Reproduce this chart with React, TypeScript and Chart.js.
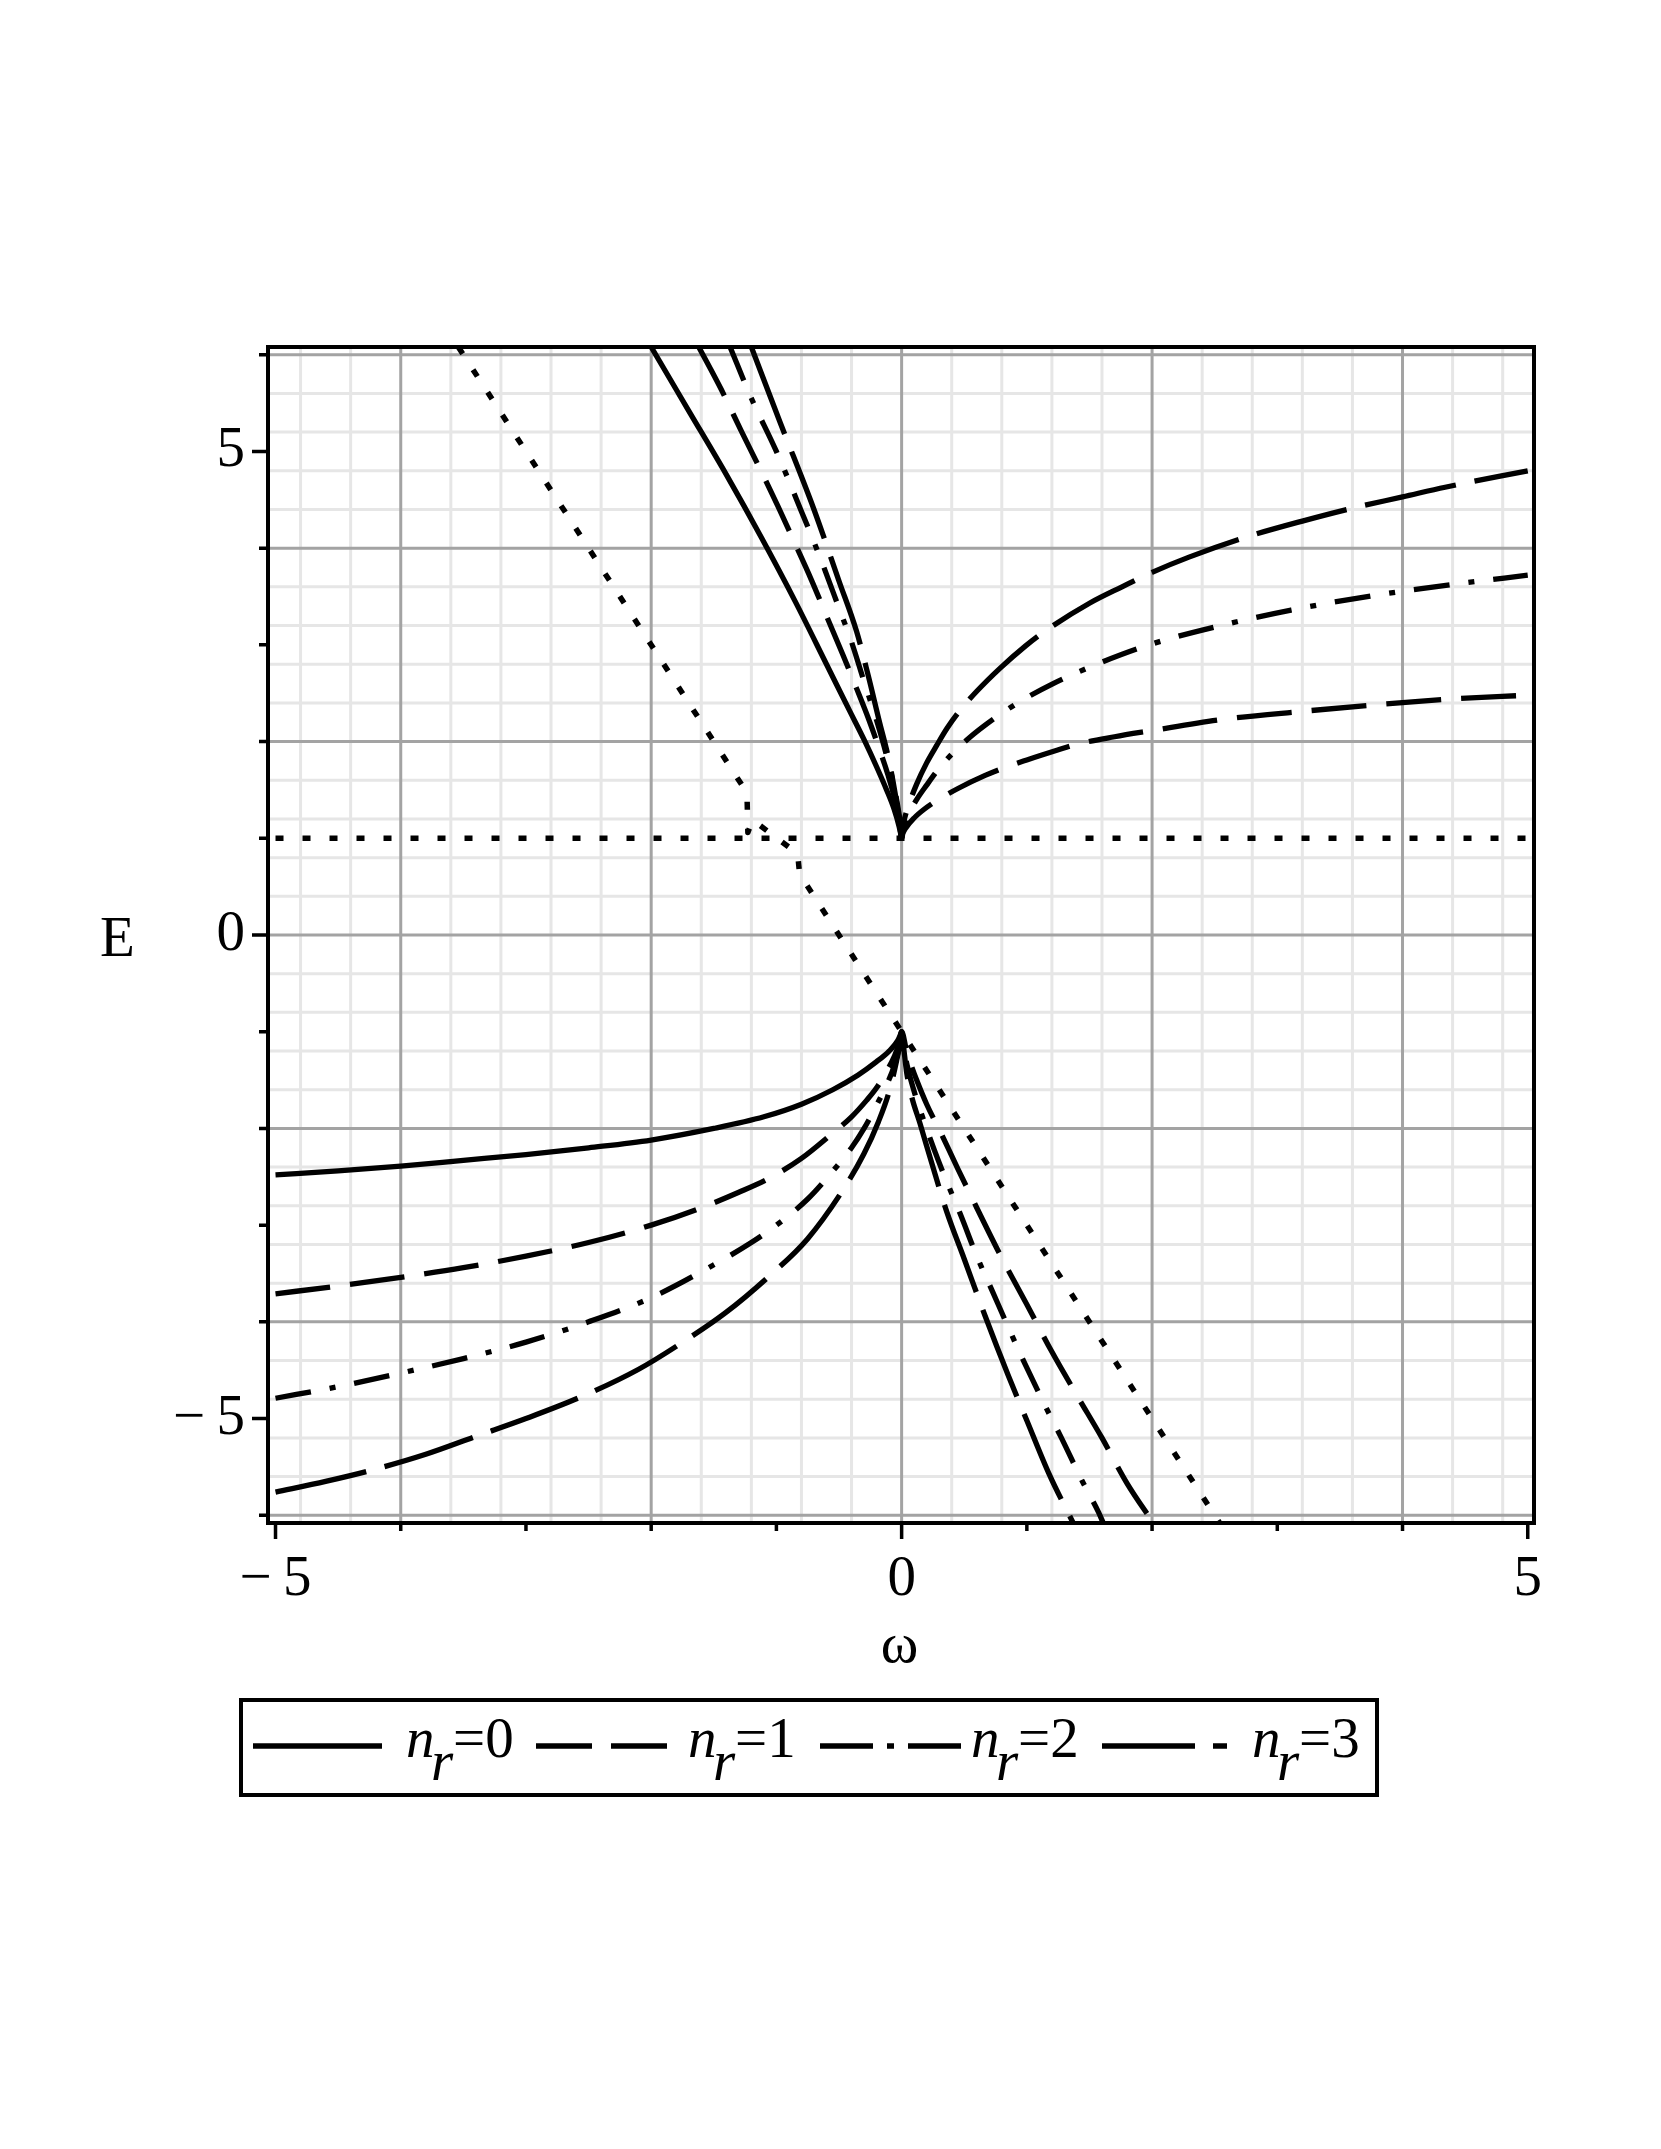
import React, { useEffect, useRef } from 'react';
import { Chart, registerables } from 'chart.js';

Chart.register(...registerables);

type Pt = [number, number];

// ---------- axis ranges & tick labels ----------
const X_MIN = -5.06;
const X_MAX = 5.05;
const Y_MIN = -6.08;
const Y_MAX = 6.08;
const xLabelValues = [-5, 0, 5];
const yLabelValues = [-5, 0, 5];
const xTitle = 'ω';
const yTitle = 'E';
const legendValues = ['0', '1', '2', '3'];

// ---------- series (ω, E) ----------
const n0Upper: Pt[] = [
  [-2.0, 6.08], [-1.7, 5.42], [-1.4, 4.76], [-1.12, 4.11], [-0.85, 3.45], [-0.6, 2.8],
  [-0.42, 2.33], [-0.3, 2.02], [-0.2, 1.74], [-0.12, 1.5], [-0.06, 1.3], [-0.02, 1.12], [0, 1],
];
const n0Lower: Pt[] = [
  [-5, -2.48], [-4.5, -2.44], [-4, -2.39], [-3.5, -2.33], [-3, -2.27], [-2.5, -2.2], [-2, -2.12],
  [-1.5, -2.0], [-1.1, -1.88], [-0.8, -1.75], [-0.55, -1.6], [-0.35, -1.45], [-0.2, -1.31],
  [-0.1, -1.2], [-0.03, -1.09], [0, -1],
];
const n1Upper: Pt[] = [
  [-1.62, 6.08], [-1.44, 5.64], [-1.28, 5.21], [-1.15, 4.87], [-0.99, 4.44], [-0.87, 4.1],
  [-0.72, 3.67], [-0.6, 3.3], [-0.47, 2.9], [-0.36, 2.55], [-0.26, 2.22], [-0.18, 1.93],
  [-0.11, 1.66], [-0.05, 1.38], [-0.015, 1.15], [0, 1], [0.01, 1.05], [0.03, 1.1], [0.1, 1.21],
  [0.18, 1.3], [0.28, 1.39], [0.45, 1.515], [0.667, 1.65], [0.82, 1.73], [1.0, 1.81], [1.24, 1.91],
  [1.39, 1.97], [1.7, 2.05], [1.98, 2.11], [2.57, 2.23], [3.18, 2.31], [3.785, 2.38], [4.39, 2.44],
  [5, 2.48],
];
const n1Lower: Pt[] = [
  [-5, -3.71], [-4.5, -3.63], [-4, -3.54], [-3.5, -3.44], [-3, -3.32], [-2.5, -3.18], [-2, -3.0],
  [-1.6, -2.82], [-1.3, -2.66], [-1.05, -2.51], [-0.8, -2.31], [-0.57, -2.07], [-0.4, -1.88],
  [-0.28, -1.71], [-0.2, -1.58], [-0.12, -1.41], [-0.06, -1.26], [-0.02, -1.12], [0, -1],
  [0.04, -1.2], [0.08, -1.36], [0.12, -1.5], [0.2, -1.75], [0.307, -2.03], [0.45, -2.42],
  [0.6, -2.82], [0.8, -3.34], [1.0, -3.82], [1.2, -4.31], [1.4, -4.76], [1.6, -5.2], [1.8, -5.67],
  [2.01, -6.08],
];
const n2Upper: Pt[] = [
  [-1.37, 6.08], [-1.2, 5.55], [-1.0, 5.0], [-0.8, 4.38], [-0.65, 3.9], [-0.5, 3.38], [-0.4, 3.03],
  [-0.3, 2.62], [-0.2, 2.22], [-0.14, 1.95], [-0.08, 1.65], [-0.04, 1.4], [-0.01, 1.15], [0, 1],
  [0.02, 1.12], [0.053, 1.24], [0.12, 1.4], [0.2, 1.55], [0.297, 1.72], [0.415, 1.89], [0.55, 2.05],
  [0.667, 2.17], [0.785, 2.28], [0.94, 2.41], [1.21, 2.6], [1.54, 2.79], [2.0, 3.01], [2.55, 3.2],
  [3.11, 3.36], [3.77, 3.51], [4.43, 3.63], [5, 3.72],
];
const n2Lower: Pt[] = [
  [-5, -4.79], [-4.5, -4.67], [-4, -4.53], [-3.5, -4.38], [-3, -4.21], [-2.5, -4.0], [-2, -3.75],
  [-1.5, -3.41], [-1.2, -3.18], [-1, -3.0], [-0.75, -2.73], [-0.555, -2.45], [-0.4, -2.2],
  [-0.3, -2.0], [-0.2, -1.76], [-0.12, -1.55], [-0.053, -1.33], [-0.015, -1.13], [0, -1],
  [0.015, -1.15], [0.05, -1.38], [0.11, -1.66], [0.18, -1.93], [0.26, -2.22], [0.36, -2.55],
  [0.467, -2.88], [0.6, -3.32], [0.72, -3.67], [0.867, -4.1], [0.987, -4.44], [1.147, -4.87],
  [1.28, -5.21], [1.44, -5.64], [1.573, -5.97], [1.61, -6.08],
];
const n3Upper: Pt[] = [
  [-1.2, 6.08], [-0.97, 5.3], [-0.7, 4.4], [-0.5, 3.66], [-0.36, 3.14], [-0.27, 2.7], [-0.18, 2.22],
  [-0.1, 1.8], [-0.05, 1.45], [-0.015, 1.15], [0, 1], [0.015, 1.15], [0.053, 1.33], [0.12, 1.56],
  [0.2, 1.78], [0.28, 1.96], [0.364, 2.14], [0.465, 2.32], [0.6, 2.52], [0.787, 2.76], [0.99, 2.99],
  [1.12, 3.12], [1.5, 3.43], [1.76, 3.6], [2.0, 3.75], [2.3, 3.91], [2.74, 4.11], [3.2, 4.28],
  [3.62, 4.42], [4.0, 4.53], [4.34, 4.63], [5, 4.8],
];
const n3Lower: Pt[] = [
  [-5, -5.76], [-4.6, -5.65], [-4.25, -5.54], [-3.8, -5.37], [-3.39, -5.18], [-3, -5.0],
  [-2.55, -4.77], [-2.1, -4.49], [-1.76, -4.22], [-1.4, -3.9], [-1.06, -3.53], [-0.75, -3.14],
  [-0.47, -2.64], [-0.3, -2.26], [-0.185, -1.93], [-0.1, -1.62], [-0.04, -1.3], [-0.01, -1.1],
  [0, -1], [0.015, -1.15], [0.04, -1.42], [0.08, -1.67], [0.147, -1.95], [0.25, -2.4],
  [0.36, -2.86], [0.5, -3.35], [0.667, -3.94], [0.85, -4.55], [1.0, -5.02], [1.18, -5.58],
  [1.37, -6.08],
];
const dottedLevel: Pt[] = [[-5, 1], [5, 1]];
const dottedDiagonal: Pt[] = [
  [-3.54, 6.08], [-1.235, 1.47], [-1.228, 1.06], [-1.19, 1.19], [-0.83, 0.84], [-0.815, 0.63],
  [2.54, -6.08],
];

// ---------- styles ----------
const W = 1661;
const H = 2149;
const FONT = "'Liberation Serif', serif";
const FONT_SIZE = 57;
const SOLID: number[] = [];
const DASHED = [55, 20];
const DASHDOT = [36, 19, 6, 19];
const LONGDASH = [93, 19];
const DOTTED = [8, 19];
const CURVE_W = 5.3;
const DOT_W = 5.5;

const AREA = { left: 268, top: 347, right: 1534, bottom: 1523 };
const Y_SCALE_W = 200;
const X_SCALE_H = 120;

const fmt = (v: number) => (v < 0 ? `\u2212\u2009${Math.abs(v)}` : `${v}`);

const seriesDefs: { data: Pt[]; dash: number[]; width: number; smooth: boolean }[] = [
  { data: n0Upper, dash: SOLID, width: CURVE_W, smooth: true },
  { data: n0Lower, dash: SOLID, width: CURVE_W, smooth: true },
  { data: n1Upper, dash: DASHED, width: CURVE_W, smooth: true },
  { data: n1Lower, dash: DASHED, width: CURVE_W, smooth: true },
  { data: n2Upper, dash: DASHDOT, width: CURVE_W, smooth: true },
  { data: n2Lower, dash: DASHDOT, width: CURVE_W, smooth: true },
  { data: n3Upper, dash: LONGDASH, width: CURVE_W, smooth: true },
  { data: n3Lower, dash: LONGDASH, width: CURVE_W, smooth: true },
  { data: dottedLevel, dash: DOTTED, width: DOT_W, smooth: false },
  { data: dottedDiagonal, dash: DOTTED, width: DOT_W, smooth: false },
];

const legendItems = [
  { sampleX: 253, len: 129, dash: SOLID, textX: 406 },
  { sampleX: 536, len: 131, dash: [56, 19], textX: 688 },
  { sampleX: 820, len: 141, dash: [53, 14, 7, 14], textX: 971 },
  { sampleX: 1102, len: 125, dash: [93, 18, 14, 100], textX: 1252 },
];
const LEGEND_BOX = { left: 241, top: 1700, right: 1377, bottom: 1795 };

const decor = {
  id: 'mapleDecor',
  beforeDraw(chart: any) {
    const { ctx } = chart;
    ctx.save();
    ctx.fillStyle = '#ffffff';
    ctx.fillRect(0, 0, chart.width, chart.height);
    ctx.restore();
  },
  beforeDatasetsDraw(chart: any) {
    const { ctx, chartArea: a } = chart;
    const xs = chart.scales.x;
    const ys = chart.scales.y;
    ctx.save();
    ctx.beginPath();
    ctx.rect(a.left, a.top, a.right - a.left, a.bottom - a.top);
    ctx.clip();
    const grid = (major: boolean) => {
      ctx.strokeStyle = major ? '#a3a3a3' : '#e6e6e6';
      ctx.lineWidth = 3;
      ctx.beginPath();
      for (let k = Math.ceil(X_MIN / 0.4); k * 0.4 <= X_MAX + 1e-9; k++) {
        if ((k % 5 === 0) !== major) continue;
        const px = xs.getPixelForValue(k * 0.4);
        ctx.moveTo(px, a.top);
        ctx.lineTo(px, a.bottom);
      }
      for (let k = Math.ceil(Y_MIN / 0.4); k * 0.4 <= Y_MAX + 1e-9; k++) {
        if ((k % 5 === 0) !== major) continue;
        const py = ys.getPixelForValue(k * 0.4);
        ctx.moveTo(a.left, py);
        ctx.lineTo(a.right, py);
      }
      ctx.stroke();
    };
    grid(false);
    grid(true);
    ctx.restore();
  },
  afterDatasetsDraw(chart: any) {
    const { ctx, chartArea: a } = chart;
    const xs = chart.scales.x;
    const ys = chart.scales.y;
    ctx.save();
    ctx.strokeStyle = '#000';
    ctx.fillStyle = '#000';
    // frame
    ctx.lineWidth = 4;
    ctx.setLineDash([]);
    ctx.strokeRect(a.left, a.top, a.right - a.left, a.bottom - a.top);
    // ticks
    ctx.lineWidth = 3.5;
    ctx.beginPath();
    for (let v = Math.ceil(X_MIN); v <= Math.floor(X_MAX); v++) {
      const px = xs.getPixelForValue(v);
      const len = xLabelValues.includes(v) ? 16 : 8;
      ctx.moveTo(px, a.bottom);
      ctx.lineTo(px, a.bottom + len);
    }
    for (let v = Math.ceil(Y_MIN); v <= Math.floor(Y_MAX); v++) {
      const py = ys.getPixelForValue(v);
      const len = yLabelValues.includes(v) ? 16 : 9;
      ctx.moveTo(a.left, py);
      ctx.lineTo(a.left - len, py);
    }
    ctx.stroke();
    // axis titles
    ctx.font = `${FONT_SIZE}px ${FONT}`;
    ctx.textBaseline = 'alphabetic';
    ctx.textAlign = 'left';
    ctx.fillText(yTitle, a.left - 168, ys.getPixelForValue(0) + 21);
    ctx.textAlign = 'center';
    ctx.fillText(xTitle, xs.getPixelForValue(0) - 2, a.bottom + 139);
    // legend box
    ctx.lineWidth = 4;
    ctx.strokeRect(LEGEND_BOX.left, LEGEND_BOX.top, LEGEND_BOX.right - LEGEND_BOX.left, LEGEND_BOX.bottom - LEGEND_BOX.top);
    const lineY = 1746;
    const baseY = 1757;
    legendItems.forEach((it, i) => {
      ctx.save();
      ctx.lineWidth = 5.5;
      ctx.lineCap = 'butt';
      ctx.setLineDash(it.dash);
      ctx.beginPath();
      ctx.moveTo(it.sampleX, lineY);
      ctx.lineTo(it.sampleX + it.len, lineY);
      ctx.stroke();
      ctx.restore();
      ctx.textAlign = 'left';
      ctx.font = `italic ${FONT_SIZE}px ${FONT}`;
      ctx.fillText('n', it.textX, baseY);
      ctx.fillText('r', it.textX + 25, baseY + 23);
      ctx.font = `${FONT_SIZE}px ${FONT}`;
      ctx.fillText('=' + legendValues[i], it.textX + 47, baseY);
    });
    ctx.restore();
  },
};

export default function App() {
  const ref = useRef<HTMLCanvasElement>(null);
  useEffect(() => {
    const canvas = ref.current;
    if (!canvas) return;
    const chart = new Chart(canvas, {
      type: 'line',
      data: {
        datasets: seriesDefs.map((s, i) => ({
          label: `s${i}`,
          data: s.data.map(([x, y]) => ({ x, y })),
          borderColor: '#000',
          borderWidth: s.width,
          borderDash: s.dash,
          borderCapStyle: 'butt',
          borderJoinStyle: 'round',
          pointRadius: 0,
          fill: false,
          cubicInterpolationMode: s.smooth ? 'monotone' : 'default',
          tension: 0,
          clip: 0,
        })) as any,
      },
      options: {
        responsive: false,
        animation: false,
        events: [],
        layout: {
          padding: {
            left: AREA.left - Y_SCALE_W,
            top: AREA.top,
            right: W - AREA.right,
            bottom: H - AREA.bottom - X_SCALE_H,
          },
        },
        plugins: { legend: { display: false }, tooltip: { enabled: false } },
        scales: {
          x: {
            type: 'linear',
            min: X_MIN,
            max: X_MAX,
            afterBuildTicks: (s: any) => {
              s.ticks = xLabelValues.map((v) => ({ value: v }));
            },
            afterFit: (s: any) => {
              s.height = X_SCALE_H;
            },
            grid: { display: false, drawTicks: false },
            border: { display: false },
            ticks: {
              autoSkip: false,
              maxRotation: 0,
              minRotation: 0,
              padding: 23,
              color: '#000',
              font: { family: FONT, size: FONT_SIZE },
              callback: (v: any) => fmt(Number(v)),
            },
          },
          y: {
            type: 'linear',
            min: Y_MIN,
            max: Y_MAX,
            afterBuildTicks: (s: any) => {
              s.ticks = yLabelValues.map((v) => ({ value: v }));
            },
            afterFit: (s: any) => {
              s.width = Y_SCALE_W;
            },
            grid: { display: false, drawTicks: false },
            border: { display: false },
            ticks: {
              autoSkip: false,
              padding: 23,
              color: '#000',
              font: { family: FONT, size: FONT_SIZE },
              callback: (v: any) => fmt(Number(v)),
            },
          },
        },
      } as any,
      plugins: [decor],
    });
    return () => chart.destroy();
  }, []);
  return (
    <div style={{ position: 'absolute', left: 0, top: 0, width: W, height: H, background: '#fff' }}>
      <canvas ref={ref} width={W} height={H} style={{ display: 'block', width: W, height: H }} />
    </div>
  );
}
